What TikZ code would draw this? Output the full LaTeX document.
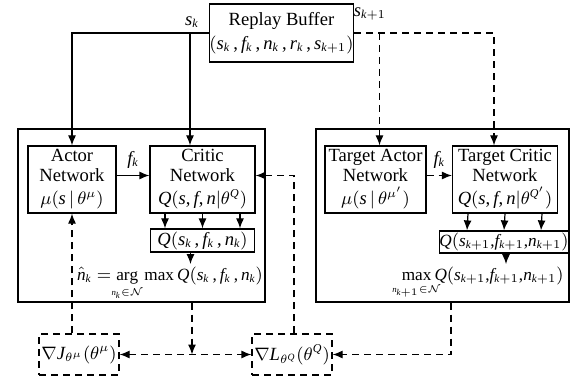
\documentclass[tikz,border=0pt]{standalone}
\usepackage{fontspec}
\setmainfont{Liberation Serif}
\DeclareSymbolFont{tmletters}{TU}{\familydefault}{m}{it}
\DeclareSymbolFont{tmupright}{TU}{\familydefault}{m}{n}
\DeclareMathSymbol{s}{\mathalpha}{tmletters}{`s}
\DeclareMathSymbol{f}{\mathalpha}{tmletters}{`f}
\DeclareMathSymbol{n}{\mathalpha}{tmletters}{`n}
\DeclareMathSymbol{r}{\mathalpha}{tmletters}{`r}
\DeclareMathSymbol{k}{\mathalpha}{tmletters}{`k}
\DeclareMathSymbol{Q}{\mathalpha}{tmletters}{`Q}
\DeclareMathSymbol{J}{\mathalpha}{tmletters}{`J}
\DeclareMathSymbol{L}{\mathalpha}{tmletters}{`L}
\DeclareMathSymbol{1}{\mathalpha}{tmupright}{`1}
\DeclareMathSymbol{+}{\mathbin}{tmupright}{`+}
\DeclareMathSymbol{(}{\mathopen}{tmupright}{`(}
\DeclareMathSymbol{)}{\mathclose}{tmupright}{`)}
\DeclareMathSymbol{,}{\mathpunct}{tmupright}{`,}
\DeclareMathSymbol{=}{\mathrel}{tmupright}{`=}
\DeclareMathSizes{9.3}{9.3}{6}{4.8}
\DeclareMathSizes{8.6}{8.6}{5.6}{4.4}
\newcommand{\undr}[1]{_{\hbox to 0pt{\hss$\scriptscriptstyle #1$\hss}}}
\usetikzlibrary{positioning,arrows.meta,calc}

\begin{document}
\begin{tikzpicture}[x=0.5pt,y=-0.5pt,
  every node/.style={font=\fontsize{9.3}{10}\selectfont},
  box/.style={draw,line width=0.6pt,align=center,inner sep=0pt},
  small/.style={font=\fontsize{8.6}{10}\selectfont},
  ln/.style={line width=0.6pt},
  arr/.style={ln,-{Latex[length=5pt,width=4pt]}},
  dsh/.style={dash pattern=on 3.5pt off 2.5pt}]
\useasboundingbox (0,0) rectangle (572,379);
% replay buffer
\node[box,minimum width=67.5pt,minimum height=29pt] (buffer) at (281.5,33) {Replay Buffer\\[2pt]$(s_k\,,f_k\,,n_k\,,r_k\,,s_{k+1})$};
% actor-critic (left) and target (right) groups
\node[box,minimum width=123.5pt,minimum height=86.5pt] (leftbox) at (141.5,215.5) {};
\node[box,minimum width=126.5pt,minimum height=86.5pt] (rightbox) at (442.5,215.5) {};
\node[box,minimum width=44pt,minimum height=33.5pt] (actor) at (72,179.5) {Actor\\Network\\[1.5pt]$\mu(s\,|\,\theta^{\mu})$};
\node[box,minimum width=52.5pt,minimum height=33.5pt] (critic) at (202.5,179.5) {Critic\\Network\\[1.5pt]$Q(s,f,n|\theta^{Q})$};
\node[box,minimum width=52pt,minimum height=11.5pt] (qk) at (202.5,240.5) {$Q(s_k\,,f_k\,,n_k)$};
\node[small,inner sep=1pt,anchor=base] (argk) at (170,280) {$\hat{n}_k=\mathop{\mathrm{arg}}\limits\undr{n_k\in\mathcal{N}}\,\max Q(s_k\,,f_k\,,n_k)$};
\node[box,minimum width=50.5pt,minimum height=33.5pt] (tactor) at (375.5,179.5) {Target Actor\\Network\\[1.5pt]$\mu(s\,|\,\theta^{\mu'})$};
\node[box,minimum width=52.5pt,minimum height=33.5pt] (tcritic) at (505,179.5) {Target Critic\\Network\\[1.5pt]$Q(s,f,n|\theta^{Q'})$};
\node[box,small,minimum width=59.5pt,minimum height=11pt] (tq) at (504,242) {$Q(s_{k+1}{,}f_{k+1}{,}n_{k+1})$};
\node[small,inner sep=1pt,anchor=base east] (maxk) at (566,280) {$\max\limits\undr{n_{k+1}\in\mathcal{N}}Q(s_{k+1}{,}f_{k+1}{,}n_{k+1})$};
% gradients
\node[box,dsh,minimum width=40pt,minimum height=20.5pt] (gradJ) at (79,354.5) {$\nabla J_{\theta^{\mu}}(\theta^{\mu})$};
\node[box,dsh,minimum width=40pt,minimum height=20.5pt] (gradL) at (292,354.5) {$\nabla L_{\theta^{Q}}(\theta^{Q})$};

% s_k to actor and critic
\coordinate (sk) at (190,33);
\draw[arr] (buffer.west) -| (actor.north);
\draw[arr] (sk) -- (sk |- critic.north);
\node (sklbl) at (192,22) {$s_k$};
\draw[arr] ([yshift=2pt]actor.east) -- ([yshift=2pt]critic.west) node[midway,above] (fk) {$f_k$};
\foreach \dx in {-18.75,0,18.75}
  \draw[arr] ([xshift=\dx pt]critic.south) -- ([xshift=\dx pt]qk.north);
\draw[arr] ([xshift=-6pt]qk.south) -- ([xshift=-6pt]qk.south |- argk.north);

% s_{k+1} to target networks
\draw[arr,dsh] (buffer.east) -| ([xshift=-5.5pt]tcritic.north);
\draw[arr,dsh] ([xshift=2pt]tactor.north |- buffer.east) -- ([xshift=2pt]tactor.north);
\node (sk1lbl) at (370,14) {$s_{k+1}$};
\draw[arr,dsh] ([yshift=2pt]tactor.east) -- ([yshift=2pt]tcritic.west) node[midway,above] (tfk) {$f_k$};
\foreach \dx in {-18.5,0,18.5}
  \draw[arr] ([xshift=\dx pt]tcritic.south) -- ([xshift=\dx pt]tq.north);
\draw[arr] ([xshift=1pt]tq.south) -- ([xshift=1pt]tq.south |- maxk.north);

% gradient paths
\draw[arr,dsh] ([xshift=4.25pt]rightbox.south) |- (gradL.east);
\draw[arr,dsh] ([xshift=25.25pt]leftbox.south) -- ([xshift=25.25pt]leftbox.south |- gradJ.east);
\draw[ln,dsh,{Latex[length=5pt,width=4pt]}-{Latex[length=5pt,width=4pt]}] (gradJ.east) -- (gradL.west);
\draw[arr,dsh] (actor.south |- gradJ.north) -- (actor.south);
\draw[arr,dsh] ([xshift=1pt]gradL.north) |- ([yshift=2pt]critic.east);
\end{tikzpicture}
\end{document}
